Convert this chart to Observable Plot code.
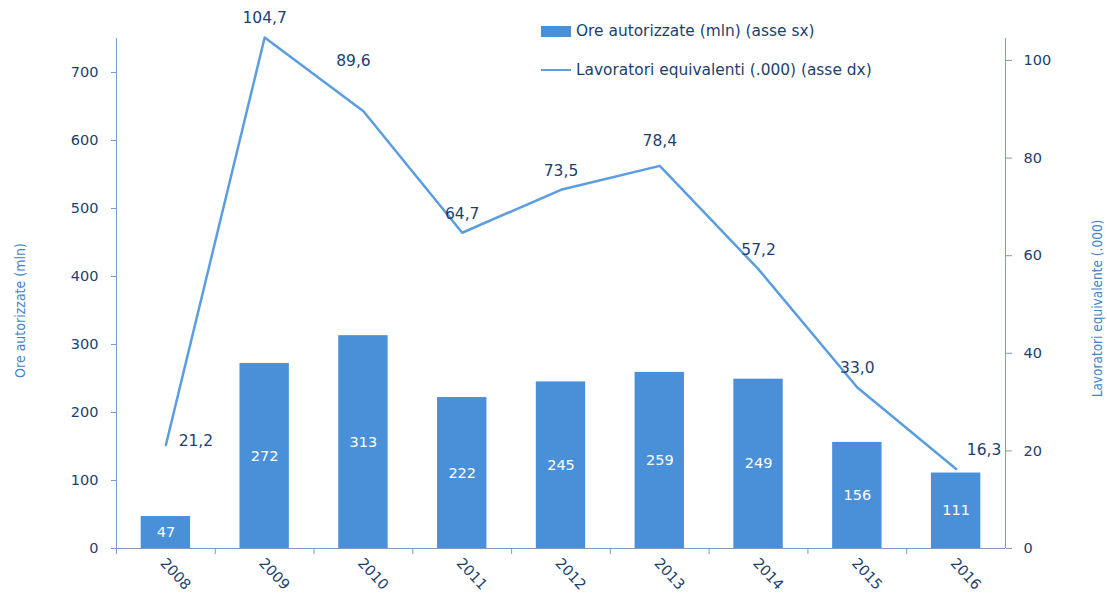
<!DOCTYPE html>
<html>
<head>
<meta charset="utf-8">
<script src="https://cdn.jsdelivr.net/npm/d3@7"></script>
<script src="https://cdn.jsdelivr.net/npm/@observablehq/plot@0.6"></script>
<style>
  html, body { margin: 0; padding: 0; background: #fff; }
  #wrap { position: relative; width: 1107px; height: 595px; font-family: "DejaVu Sans", Verdana, sans-serif; }
  #legend { position: absolute; left: 541px; top: 20px; color: #1d3f6e; font-size: 15.4px; }
  .item { display: flex; align-items: center; height: 22px; }
  .item + .item { margin-top: 17px; }
  .sw { width: 30px; margin-right: 5px; }
  .sw.bar { height: 11px; background: #4a90d9; }
  .sw.line { height: 0; border-top: 2.5px solid #5a9ee0; }
</style>
</head>
<body>
<div id="wrap">
  <div id="chart"></div>
  <div id="legend">
    <div class="item"><div class="sw bar"></div><span>Ore autorizzate (mln) (asse sx)</span></div>
    <div class="item"><div class="sw line"></div><span>Lavoratori equivalenti (.000) (asse dx)</span></div>
  </div>
</div>
<script>
const years = ["2008","2009","2010","2011","2012","2013","2014","2015","2016"];
const ore = [47, 272, 313, 222, 245, 259, 249, 156, 111];
const lavoratori = [21.2, 104.7, 89.6, 64.7, 73.5, 78.4, 57.2, 33.0, 16.3];
const leftTicks = [0, 100, 200, 300, 400, 500, 600, 700];
const rightTicks = [0, 20, 40, 60, 80, 100];
const leftMax = 750;
const rightMax = 104.5;

const data = years.map((y, i) => ({year: y, ore: ore[i], lav: lavoratori[i]}));
const k = leftMax / rightMax;

const W = 1107, H = 595;
const mL = 116, mR = 102, mT = 38, mB = 47;
const pInner = 0.5, pOuter = 0.25;
const step = (W - mL - mR) / (years.length - pInner + 2 * pOuter);
const half = step / 2;

const navy = "#1d3f6e";
const axisStroke = "#7f9bbd";
const barColor = "#4a90d9";
const lineColor = "#5a9ee0";
const titleColor = "#3f84cc";
const fmt = v => v.toFixed(1).replace(".", ",");

// label placement groups for the line values (style only)
const labelGroups = [
  {years: ["2009","2011","2012","2014","2015"], dx: 0, dy: -19},
  {years: ["2013"], dx: 0, dy: -25},
  {years: ["2010"], dx: -10, dy: -50},
  {years: ["2008"], dx: 30, dy: -4},
  {years: ["2016"], dx: 28, dy: -19}
];

const titleFont = "'Liberation Sans Narrow', 'DejaVu Sans Condensed', sans-serif";

const chart = Plot.plot({
  width: W, height: H,
  marginLeft: mL, marginRight: mR, marginTop: mT, marginBottom: mB,
  style: {fontFamily: "'DejaVu Sans', Verdana, sans-serif", fontSize: "14.5px", color: navy, background: "#fff"},
  x: {domain: years, paddingInner: pInner, paddingOuter: pOuter, round: false, axis: null},
  y: {domain: [0, leftMax], axis: null},
  marks: [
    Plot.barY(data, {x: "year", y: "ore", fill: barColor}),
    Plot.text(data, {x: "year", y: d => d.ore / 2, text: d => String(d.ore), fill: "#fff", fontSize: 14.5}),
    Plot.lineY(data, {x: "year", y: d => d.lav * k, stroke: lineColor, strokeWidth: 2.5}),
    ...labelGroups.map(g => Plot.text(data.filter(d => g.years.includes(d.year)),
      {x: "year", y: d => d.lav * k, text: d => fmt(d.lav), dx: g.dx, dy: g.dy, fill: navy, fontSize: 15.5})),
    // axis lines
    Plot.ruleY([0], {stroke: axisStroke}),
    Plot.ruleX([years[0]], {x: d => d, dx: -half, stroke: axisStroke}),
    Plot.ruleX([years[years.length - 1]], {x: d => d, dx: half, stroke: axisStroke}),
    // x boundary ticks
    Plot.ruleX(years, {x: d => d, y1: () => 0, y2: () => 0, insetBottom: -6, dx: -half, stroke: axisStroke}),
    Plot.axisX({tickSize: 0, tickPadding: 12, tickRotate: 47, dx: -3, label: null, fill: navy, fontSize: 14.5}),
    Plot.axisY({anchor: "left", ticks: leftTicks, tickSize: 5, tickPadding: 13, label: null, stroke: axisStroke, fill: navy}),
    Plot.axisY(rightTicks.map(t => t * k), {anchor: "right", tickFormat: d => String(Math.round(d / k)), tickSize: 6, tickPadding: 12, label: null, stroke: axisStroke, fill: navy}),
    Plot.text(["Ore autorizzate (mln)"], {frameAnchor: "left", textAnchor: "middle", dx: -96, dy: 17, rotate: -90, fill: titleColor, fontFamily: titleFont, fontSize: 14}),
    Plot.text(["Lavoratori equivalente (.000)"], {frameAnchor: "right", textAnchor: "middle", dx: 92, dy: 15, rotate: -90, fill: titleColor, fontFamily: titleFont, fontSize: 13.5})
  ]
});
document.getElementById("chart").appendChild(chart);
</script>
</body>
</html>
